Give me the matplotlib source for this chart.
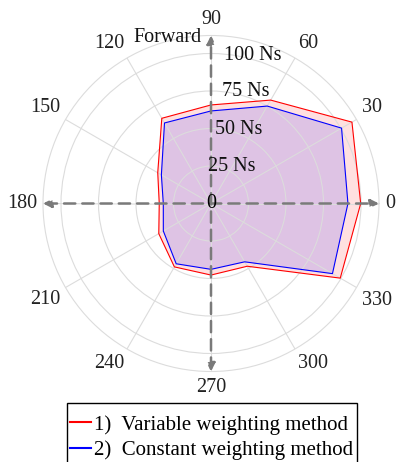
import numpy as np
import matplotlib
matplotlib.use("Agg")
import matplotlib.pyplot as plt
from matplotlib.patches import Rectangle

plt.rcParams['font.family'] = ['Liberation Serif', 'DejaVu Serif']

angles_deg = [0, 30, 60, 90, 120, 150, 180, 210, 240, 270, 300, 330]
variable_weighting = [99.8, 108.5, 79.6, 65.7, 65.6, 41.0, 34.5, 40.2, 48.8, 47.7, 48.3, 99.5]
constant_weighting = [91.3, 100.5, 75.0, 61.7, 62.0, 38.2, 31.8, 36.7, 46.4, 43.9, 44.9, 93.5]
ring_values = [25, 50, 75, 100]
ring_labels = ["25 Ns", "50 Ns", "75 Ns", "100 Ns"]
theta_labels = [str(a) for a in range(0, 360, 30)]
series_names = ["1)  Variable weighting method", "2)  Constant weighting method"]

R_MAX = 112
W, H = 396, 462
fig = plt.figure(figsize=(W / 100, H / 100), dpi=100)
cx, cy, rad = 211, 203.5, 168
rect = [(cx - rad) / W, (H - cy - rad) / H, 2 * rad / W, 2 * rad / H]
ax = fig.add_axes(rect, projection='polar')

th = np.deg2rad(angles_deg + [angles_deg[0]])
v1 = variable_weighting + [variable_weighting[0]]
v2 = constant_weighting + [constant_weighting[0]]

ax.fill(th, v1, color='red', alpha=0.12, lw=0)
l1, = ax.plot(th, v1, color='#ff0000', lw=0.8, label=series_names[0])
ax.fill(th, v2, color='blue', alpha=0.13, lw=0)
l2, = ax.plot(th, v2, color='#0000ff', lw=0.8, label=series_names[1])

ax.set_ylim(0, R_MAX)
ax.set_yticks(ring_values)
ax.set_yticklabels([])
ax.set_xticks(np.deg2rad(range(0, 360, 30)))
ax.set_xticklabels([])
ax.grid(color='#dcdcdc', lw=0.8)
ax.spines['polar'].set_color('#dcdcdc')
ax.spines['polar'].set_linewidth(0.8)
ax.tick_params(length=0)

FS = 14.5
r_lab = R_MAX * 174 / 168
for a, t in zip(range(0, 360, 30), theta_labels):
    c, s = np.cos(np.deg2rad(a)), np.sin(np.deg2rad(a))
    ha = 'left' if c > 0.1 else ('right' if c < -0.1 else 'center')
    va = 'bottom' if s > 0.1 else ('top' if s < -0.1 else 'center')
    ax.text(np.deg2rad(a), r_lab, t, ha=ha, va=va, fontsize=FS, color='#222222')

ax2 = fig.add_axes(rect)
ax2.set_xlim(-1, 1)
ax2.set_ylim(-1, 1)
ax2.axis('off')
ax2.patch.set_alpha(0)
for (x0, y0, x1, y1) in [(-1, 0, 1, 0), (0, -1, 0, 1)]:
    ax2.annotate('', xy=(x1, y1), xytext=(x0, y0),
                 arrowprops=dict(arrowstyle='<|-|>', color='#7a7a7a', lw=1.8,
                                 ls=(0, (4.5, 2.8)), mutation_scale=12,
                                 shrinkA=0, shrinkB=0))

ax2.text(0.0, 0.0, "0", ha='center', va='center', fontsize=FS, color='black')
pos = [(-2.7, 36.8), (4, 73.5), (10.7, 111.8), (13, 148.5)]
for (dx, dy), t in zip(pos, ring_labels):
    ax2.text(dx / rad, dy / rad, t, ha='left', va='center', fontsize=FS, color='#111111')
ax2.text((202 - cx) / rad, (cy - 37) / rad, "Forward", ha='right', va='center',
         fontsize=FS, color='#111111')

leg = fig.legend(handles=[l1, l2], loc='upper left',
                 bbox_to_anchor=(70 / W, 1 - 415 / H), fontsize=15,
                 frameon=False, handlelength=1.0, handletextpad=0.15,
                 borderpad=0.0, labelspacing=0.28, borderaxespad=0)
for h in leg.legend_handles:
    h.set_linewidth(1.5)

fig.patches.append(Rectangle((67 / W, -0.05), (357 - 67) / W, 0.05 + (462 - 403) / H,
                             transform=fig.transFigure, fill=False,
                             edgecolor='black', lw=1.0))

fig.savefig('out.png', dpi=100)
